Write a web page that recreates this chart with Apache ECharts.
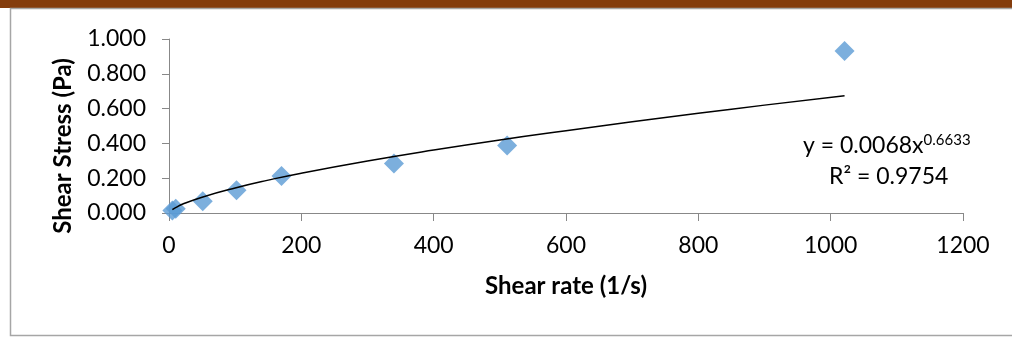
<!DOCTYPE html>
<html>
<head>
<meta charset="utf-8">
<script src="https://cdn.jsdelivr.net/npm/echarts@6/dist/echarts.min.js"></script>
<style>html,body{margin:0;padding:0;background:#fff}#c{width:1012px;height:338px}</style>
</head>
<body>
<div id="c"></div>
<script>
// Measured points: shear rate (1/s) vs shear stress (Pa)
const shearRate = [5.1, 10.2, 51, 102, 170, 340, 511, 1021];
const shearStress = [0.015, 0.025, 0.067, 0.131, 0.213, 0.284, 0.388, 0.931];
// Power trendline
const trendX = [5.1, 10, 20, 50, 100, 150, 200, 300, 400, 500, 600, 700, 800, 900, 1021];
const trendY = [0.020, 0.031, 0.050, 0.091, 0.144, 0.189, 0.229, 0.299, 0.362, 0.420, 0.473, 0.524, 0.573, 0.620, 0.674];
const xTicks = [0, 200, 400, 600, 800, 1000, 1200];
const yTicks = [0, 0.2, 0.4, 0.6, 0.8, 1.0];
const xTitle = 'Shear rate (1/s)';
const yTitle = 'Shear Stress (Pa)';
const eqText = 'y = 0.0068x';
const eqExp = '0.6633';
const r2Text = 'R² = 0.9754';

const FONT = 'Lato';
const chart = echarts.init(document.getElementById('c'), null, {renderer: 'canvas'});
const axisLineStyle = {color: '#888888', width: 1};
chart.setOption({
  animation: false,
  grid: {left: 169, right: 49, top: 39, bottom: 125},
  xAxis: {
    type: 'value', min: xTicks[0], max: xTicks[xTicks.length - 1], interval: 200,
    axisLine: {show: true, lineStyle: axisLineStyle},
    axisTick: {show: true, length: 8, lineStyle: axisLineStyle},
    splitLine: {show: false},
    axisLabel: {fontFamily: FONT, fontSize: 23, color: '#000', margin: 21,
      formatter: v => String(v)},
    name: xTitle, nameLocation: 'middle', nameGap: 61,
    nameTextStyle: {fontFamily: FONT, fontSize: 24, fontWeight: 'bold', color: '#000'}
  },
  yAxis: {
    type: 'value', min: yTicks[0], max: yTicks[yTicks.length - 1], interval: 0.2,
    axisLine: {show: true, lineStyle: axisLineStyle},
    axisTick: {show: true, length: 7, lineStyle: axisLineStyle},
    splitLine: {show: false},
    axisLabel: {fontFamily: FONT, fontSize: 23, color: '#000', margin: 23,
      formatter: v => v.toFixed(3)},
    name: yTitle, nameLocation: 'middle', nameGap: 94,
    nameTextStyle: {fontFamily: FONT, fontSize: 24, fontWeight: 'bold', color: '#000', padding: [0, 40, 0, 0]}
  },
  series: [
    {
      type: 'line', data: trendX.map((x, i) => [x, trendY[i]]), smooth: true,
      showSymbol: false, lineStyle: {color: '#000', width: 1.5}, z: 3
    },
    {
      type: 'scatter', data: shearRate.map((x, i) => [x, shearStress[i]]),
      symbol: 'diamond', symbolSize: 20, itemStyle: {color: '#5B9BD5'}, z: 2
    }
  ],
  graphic: [
    {type: 'rect', shape: {x: 0, y: 0, width: 1012, height: 8}, style: {fill: '#843C0C'}, silent: true},
    {type: 'polyline', shape: {points: [[1012, 8.5], [10.5, 8.5], [10.5, 335.5], [1012, 335.5]]},
      style: {stroke: '#A6A6A6', lineWidth: 1.5, fill: null}, silent: true},
    {type: 'text', left: 803, top: 133, style: {
      text: '{a|' + eqText + '}{s|' + eqExp + '}',
      rich: {
        a: {fontFamily: FONT, fontSize: 23, fill: '#000', lineHeight: 28},
        s: {fontFamily: FONT, fontSize: 15, fill: '#000', lineHeight: 28, padding: [0, 0, 10, 0]}
      }}},
    {type: 'text', left: 829, top: 165, style: {
      text: r2Text, fontFamily: FONT, fontSize: 23, fill: '#000'}}
  ]
});
</script>
</body>
</html>
